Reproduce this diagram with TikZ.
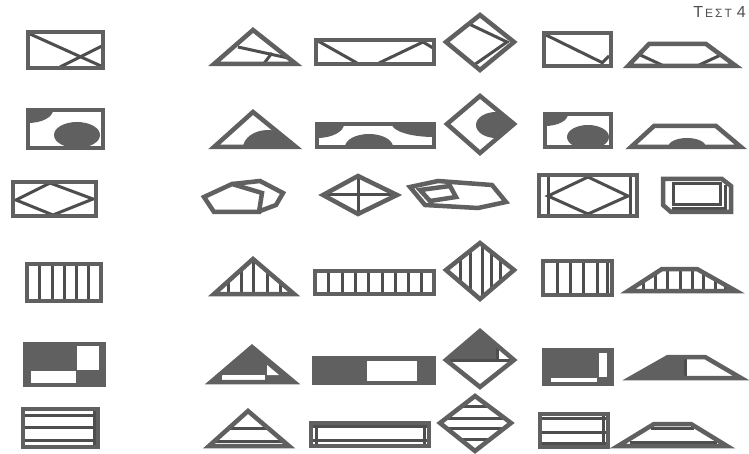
\documentclass[tikz,border=0pt]{standalone}
\usepackage{fontspec}
\usepackage{tikz}
\newfontfamily\titlefont{Liberation Sans}
\definecolor{ink}{RGB}{96,96,96}
\definecolor{inkdark}{RGB}{78,78,78}

\begin{document}
\begin{tikzpicture}[x=1pt,y=-1pt,
  frame/.style={draw=ink,line width=4.5pt,line join=miter},
  bar/.style={draw=inkdark,line width=3pt},
  blot/.style={fill=ink},
  hole/.style={fill=white},
]
\useasboundingbox[fill=white] (0,0) rectangle (749,454);

\node[font=\titlefont,text=inkdark,anchor=east,inner sep=0pt] (title) at (746,12)
  {{\fontsize{16}{16}\selectfont Τ}{\fontsize{12}{12}\selectfont\,Ε\,Σ\,Τ}\,\,\,{\fontsize{16}{16}\selectfont 4}};

% row 1
\draw[bar] (30,34) -- (101,66);
\draw[bar] (60,67) -- (102,46);
\draw[frame] (28,32) rectangle (103,68);

\begin{scope}
  \clip (214,64) -- (253,30) -- (296,64) -- cycle;
  \draw[bar] (238,47) -- (288,58);
  \draw[bar] (262,66) -- (272,53);
\end{scope}
\draw[frame] (214,64) -- (253,30) -- (296,64) -- cycle;

\draw[bar] (318,41) -- (357,63) (379,63) -- (423,42) -- (433,48);
\draw[frame] (316,40) rectangle (434,64);

\draw[bar] (469,24) -- (507,42) -- (474,65);
\draw[frame] (446,42) -- (480,15) -- (514,42) -- (480,70) -- cycle;

\draw[bar] (546,35) -- (603,63) (601,64) -- (609,56);
\draw[frame] (544,33) rectangle (611,66);

\begin{scope}
  \clip (628,66) -- (649,44) -- (706,44) -- (736,66) -- cycle;
  \draw[bar] (636,53) -- (664,66) (697,66) -- (725,53);
\end{scope}
\draw[frame] (628,66) -- (649,44) -- (706,44) -- (736,66) -- cycle;

% row 2
\begin{scope}
  \clip (28,110) rectangle (103,148);
  \fill[blot] (28,110) ellipse [x radius=25,y radius=13];
  \fill[blot] (77,135) ellipse [x radius=23,y radius=13];
\end{scope}
\draw[frame] (28,110) rectangle (103,148);

\begin{scope}
  \clip (214,147) -- (253,112) -- (296,147) -- cycle;
  \fill[blot] (268,148) ellipse [x radius=25,y radius=18];
\end{scope}
\draw[frame] (214,147) -- (253,112) -- (296,147) -- cycle;

\begin{scope}
  \clip (317,124) rectangle (434,147);
  \fill[blot] (317,124) ellipse [x radius=27,y radius=14];
  \fill[blot] (434,124) ellipse [x radius=42,y radius=13];
  \fill[blot] (369,147) ellipse [x radius=24,y radius=13];
\end{scope}
\draw[frame] (317,124) rectangle (434,147);

\begin{scope}
  \clip (447,124) -- (480,96) -- (514,124) -- (480,153) -- cycle;
  \fill[blot] (496,125) ellipse [x radius=20,y radius=13];
\end{scope}
\draw[frame] (447,124) -- (480,96) -- (514,124) -- (480,153) -- cycle;

\begin{scope}
  \clip (545,114) rectangle (611,147);
  \fill[blot] (545,114) ellipse [x radius=23,y radius=12];
  \fill[blot] (588,137) ellipse [x radius=21,y radius=12];
\end{scope}
\draw[frame] (545,114) rectangle (611,147);

\begin{scope}
  \clip (631,147) -- (654,126) -- (716,126) -- (741,147) -- cycle;
  \fill[blot] (687,147) ellipse [x radius=19,y radius=9];
\end{scope}
\draw[frame] (631,147) -- (654,126) -- (716,126) -- (741,147) -- cycle;

% row 3
\draw[bar] (16,200) -- (50,183) -- (93,199) -- (53,215) -- cycle;
\draw[frame] (13,182) rectangle (96,216);

\draw[frame] (232,184) -- (260,181) -- (283,193) -- (276,205) -- (260,211);
\draw[frame] (204,197) -- (232,184) -- (262,193) -- (259,212) -- (214,212) -- cycle;

\draw[bar] (323,195) -- (397,195) (358,176) -- (358,214);
\draw[frame] (323,195) -- (358,176) -- (397,195) -- (358,214) -- cycle;

\draw[frame] (420,190) -- (450,186) -- (456,197) -- (430,201) -- cycle;
\draw[frame] (410,187) -- (438,181) -- (492,185) -- (506,202) -- (478,208) -- (425,205) -- cycle;

\draw[bar] (548,175) -- (548,216) (630,175) -- (630,216);
\draw[bar] (548,196) -- (588,177) -- (628,196) -- (588,214) -- cycle;
\draw[frame] (539,175) rectangle (637,216);

\draw[bar] (673,184) rectangle (720,205);
\draw[bar] (672,209) -- (725,209) -- (725,185);
\draw[frame] (663,179) -- (722,179) -- (731,186) -- (731,212) -- (671,212) -- (663,205) -- cycle;

% row 4
\foreach \x in {39,52,64,76,88}
  \draw[bar] (\x,264) -- (\x,301);
\draw[frame] (27,264) rectangle (101,301);

\begin{scope}
  \clip (214,294) -- (253,259) -- (294,294) -- cycle;
  \foreach \x in {228,241,253,267,280}
    \draw[bar] (\x,255) -- (\x,296);
\end{scope}
\draw[frame] (214,294) -- (253,259) -- (294,294) -- cycle;

\foreach \x in {328,342,355,368,382,395,408,421}
  \draw[bar] (\x,271) -- (\x,294);
\draw[frame] (315,271) rectangle (434,294);

\begin{scope}
  \clip (446,270) -- (480,243) -- (514,270) -- (480,299) -- cycle;
  \foreach \x in {460,470,482,491,500}
    \draw[bar] (\x,240) -- (\x,302);
\end{scope}
\draw[frame] (446,270) -- (480,243) -- (514,270) -- (480,299) -- cycle;

\foreach \x in {557,570,583,597,607}
  \draw[bar] (\x,261) -- (\x,295);
\draw[frame] (543,261) rectangle (612,295);

\begin{scope}
  \clip (628,291) -- (662,269) -- (697,269) -- (736,291) -- cycle;
  \foreach \x in {643,655,667,680,692,703,715,725}
    \draw[bar] (\x,266) -- (\x,294);
\end{scope}
\draw[frame] (628,291) -- (662,269) -- (697,269) -- (736,291) -- cycle;

% row 5
\fill[blot] (25,344) rectangle (104,385);
\fill[hole] (77,346) rectangle (99,370);
\fill[hole] (31,371) rectangle (76,383);
\draw[frame] (25,344) rectangle (104,385);

\fill[blot] (211,382) -- (252,347) -- (294,382) -- cycle;
\fill[hole] (222,375) rectangle (265,380);
\fill[hole] (267,365) -- (267,375) -- (279,375) -- cycle;
\draw[frame] (211,382) -- (252,347) -- (294,382) -- cycle;

\fill[blot] (314,358) rectangle (434,383);
\fill[hole] (367,361) rectangle (417,381);
\draw[frame] (314,358) rectangle (434,383);

\fill[blot] (446,360) -- (480,331) -- (514,360) -- cycle;
\fill[hole] (497,345) -- (497,360) -- (514,360) -- cycle;
\draw[bar] (446,360) -- (514,360) (497,346) -- (497,360);
\draw[frame] (446,360) -- (480,331) -- (514,360) -- (480,387) -- cycle;

\fill[blot] (544,350) rectangle (612,384);
\fill[hole] (599,353) rectangle (607,377);
\fill[hole] (551,378) rectangle (597,382);
\draw[frame] (544,350) rectangle (612,384);

\fill[blot] (631,378) -- (668,357) -- (685,357) -- (685,378) -- cycle;
\draw[bar] (685,357) -- (685,378);
\draw[frame] (631,378) -- (668,357) -- (705,357) -- (741,378) -- cycle;

% row 6
\draw[bar] (23,415) -- (98,415) (23,427) -- (98,427) (23,440) -- (98,440) (94,409) -- (94,447);
\draw[frame] (23,409) rectangle (98,447);

\begin{scope}
  \clip (209,446) -- (248,411) -- (289,446) -- cycle;
  \draw[bar] (200,428) -- (300,428) (200,441) -- (300,441);
\end{scope}
\draw[frame] (209,446) -- (248,411) -- (289,446) -- cycle;

\draw[bar] (311,426) -- (429,426) (311,440) -- (429,440) (316,423) -- (316,446) (424,423) -- (424,446);
\draw[frame] (311,423) rectangle (429,446);

\begin{scope}
  \clip (440,423) -- (475,396) -- (511,423) -- (475,451) -- cycle;
  \foreach \y in {406,418,428,439}
    \draw[bar] (430,\y) -- (520,\y);
\end{scope}
\draw[frame] (440,423) -- (475,396) -- (511,423) -- (475,451) -- cycle;

\draw[bar] (540,418) -- (608,418) (540,432) -- (608,432) (540,443) -- (608,443) (603,414) -- (603,447);
\draw[frame] (540,414) rectangle (608,447);

\draw[bar] (651,428) -- (694,428) (630,442) -- (717,442);
\draw[frame] (618,446) -- (654,424) -- (691,424) -- (727,446) -- cycle;
\end{tikzpicture}
\end{document}
